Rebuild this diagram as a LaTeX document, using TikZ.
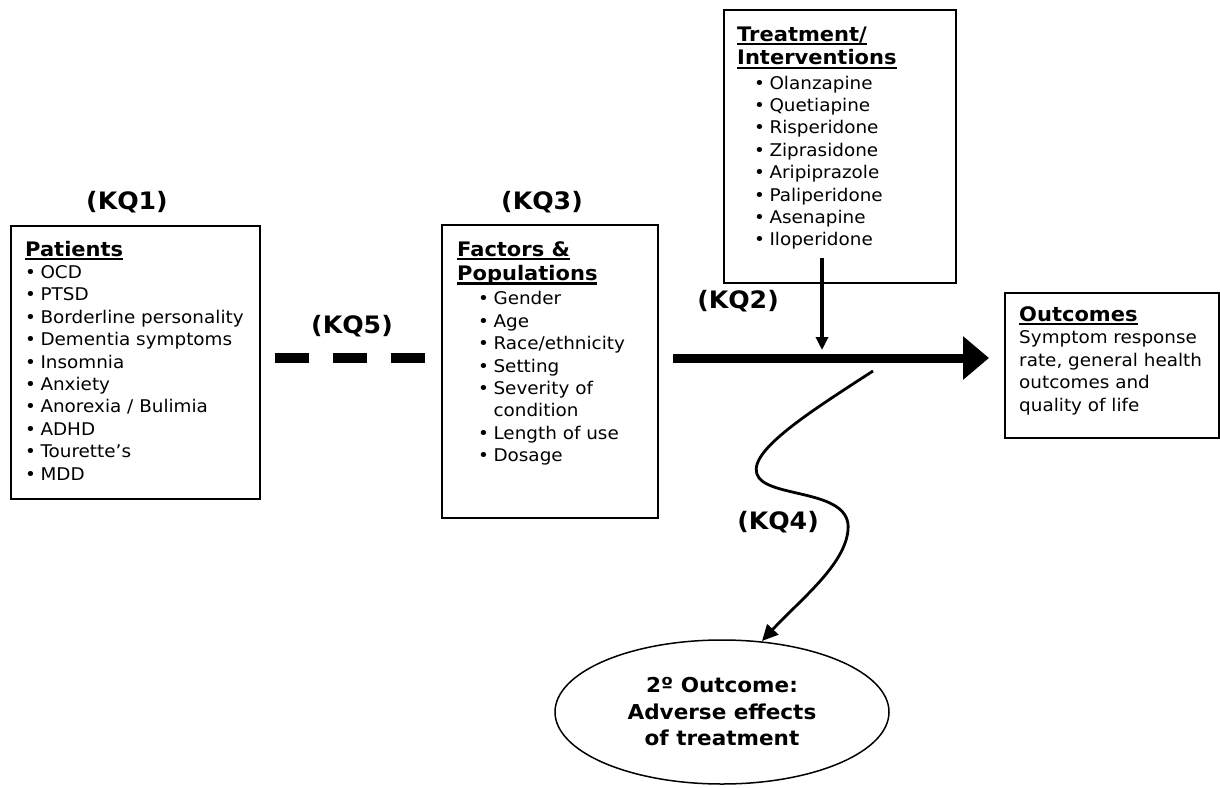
\documentclass[tikz,border=0pt]{standalone}
\usepackage{fontspec}
\setmainfont{DejaVu Sans}[FakeStretch=1.05]
\usetikzlibrary{arrows.meta,shapes.geometric}
\newcommand\hdul[1]{\setbox0=\hbox{#1}\rlap{\rule[-4.3pt]{\wd0}{2.4pt}}\box0}
\newcommand\hd[1]{{\fontsize{20}{22.4}\selectfont\bfseries\hdul{#1}}}
\begin{document}
\begin{tikzpicture}[x=1pt,y=-1pt,
  box/.style={draw, line width=1.5pt, inner sep=0pt, anchor=north west},
  txt/.style={inner sep=0pt, anchor=base west, font=\fontsize{17.5}{22.4}\selectfont},
  kq/.style={inner sep=0pt, font=\fontsize{24}{26}\selectfont\bfseries},
]
\useasboundingbox (0,0) rectangle (1220,787);

% boxes
\node[box, minimum width=249pt, minimum height=273pt] (patients) at (10,225) {};
\node[box, minimum width=216pt, minimum height=293pt] (factors) at (441,224) {};
\node[box, minimum width=232pt, minimum height=273pt] (treatment) at (723,9) {};
\node[box, minimum width=214pt, minimum height=145pt] (outcomes) at (1004,292) {};
\node[draw, ellipse, line width=1.5pt, minimum width=334pt, minimum height=144pt,
      inner sep=0pt, align=center, font=\fontsize{20.5}{26.5}\selectfont\bfseries]
      (adverse) at (722,712) {2º Outcome:\\Adverse effects\\of treatment};

% texts
\node[txt] (ptext) at (25,256) {\begin{tabular}[t]{@{}l@{\hspace{4.5pt}}l@{}}
\multicolumn{2}{@{}l@{}}{\hd{Patients}}\\
\textbullet & OCD\\
\textbullet & PTSD\\
\textbullet & Borderline personality\\
\textbullet & Dementia symptoms\\
\textbullet & Insomnia\\
\textbullet & Anxiety\\
\textbullet & Anorexia / Bulimia\\
\textbullet & ADHD\\
\textbullet & Tourette’s\\
\textbullet & MDD
\end{tabular}};

\node[txt] (ftext) at (457,256) {\begin{tabular}[t]{@{}l@{\hspace{4.5pt}}l@{}}
\multicolumn{2}{@{}l@{}}{\hd{Factors \&}}\\[2pt]
\multicolumn{2}{@{}l@{}}{\hd{Populations}}\\[2pt]
\hspace{21pt}\textbullet & Gender\\
\hspace{21pt}\textbullet & Age\\
\hspace{21pt}\textbullet & Race/ethnicity\\
\hspace{21pt}\textbullet & Setting\\
\hspace{21pt}\textbullet & Severity of\\
 & condition\\
\hspace{21pt}\textbullet & Length of use\\
\hspace{21pt}\textbullet & Dosage
\end{tabular}};

\node[txt] (ttext) at (737,41) {\begin{tabular}[t]{@{}l@{\hspace{4.5pt}}l@{}}
\multicolumn{2}{@{}l@{}}{\hd{Treatment/}}\\[1.6pt]
\multicolumn{2}{@{}l@{}}{\hd{Interventions}}\\[1.6pt]
\hspace{17pt}\textbullet & Olanzapine\\
\hspace{17pt}\textbullet & Quetiapine\\
\hspace{17pt}\textbullet & Risperidone\\
\hspace{17pt}\textbullet & Ziprasidone\\
\hspace{17pt}\textbullet & Aripiprazole\\
\hspace{17pt}\textbullet & Paliperidone\\
\hspace{17pt}\textbullet & Asenapine\\
\hspace{17pt}\textbullet & Iloperidone
\end{tabular}};

\node[txt, font=\fontsize{17.5}{22.6}\selectfont] (otext) at (1019,321) {\begin{tabular}[t]{@{}l@{}}
\hd{Outcomes}\\
Symptom response\\
rate, general health\\
outcomes and\\
quality of life
\end{tabular}};

% KQ labels
\node[kq] (kq1) at (127,202) {(KQ1)};
\node[kq] (kq3) at (542,202) {(KQ3)};
\node[kq] (kq5) at (352,326) {(KQ5)};
\node[kq] (kq2) at (738,301) {(KQ2)};
\node[kq] (kq4) at (778,522) {(KQ4)};

% connectors
\coordinate (d1) at (275,358);
\coordinate (d2) at (425,358);
\draw[line width=10pt, dash pattern=on 34pt off 24pt] (d1) -- (d2);

\coordinate (m1) at (673,358);
\coordinate (m2) at (989,358);
\draw[line width=9pt, -{Triangle[length=26pt,width=42pt]}] (m1) -- (m2);

\coordinate (v1) at (822,258);
\coordinate (v2) at (822,350);
\draw[line width=3.2pt, -{Triangle[length=13pt,width=12pt]}] (v1) -- (v2);

\coordinate (w1) at (873,371);
\coordinate (w2) at (762,641);
\draw[line width=2.8pt, -{Triangle[length=16pt,width=15pt]}] (w1)
  .. controls (805,415) and (742,455) .. (759,478)
  .. controls (775,498) and (852,490) .. (848,530)
  .. controls (845,565) and (800,600) .. (w2);
\end{tikzpicture}
\end{document}
